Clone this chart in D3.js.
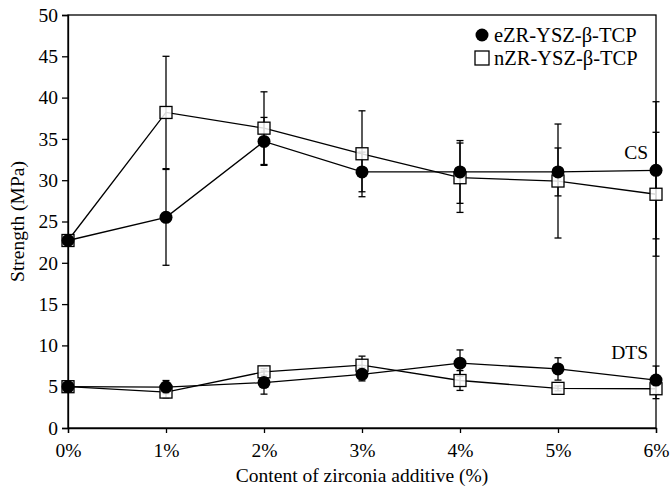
<!DOCTYPE html>
<html><head><meta charset="utf-8">
<script src="https://cdn.jsdelivr.net/npm/d3@7"></script>
<style>body{margin:0;background:#fff}svg{display:block}text{font-family:"Liberation Serif","Times New Roman",serif;fill:#000}</style>
</head><body><svg id="c" width="671" height="492"></svg>
<script>
const categories = ["0%","1%","2%","3%","4%","5%","6%"];
const yTicks = [0,5,10,15,20,25,30,35,40,45,50];
const csE = [22.7, 25.5, 34.7, 31.0, 31.0, 31.0, 31.2];
const csEerr = [0.3, 5.8, 2.9, 2.4, 3.8, 2.9, 8.3];
const csN = [22.7, 38.2, 36.3, 33.2, 30.3, 29.9, 28.3];
const csNerr = [0.3, 6.8, 4.4, 5.2, 4.2, 6.9, 7.5];
const dtsE = [5.0, 4.95, 5.5, 6.5, 7.85, 7.15, 5.8];
const dtsEerr = [0.1, 0.8, 1.4, 0.8, 1.6, 1.35, 1.7];
const dtsN = [5.0, 4.35, 6.8, 7.6, 5.75, 4.8, 4.75];
const dtsNerr = [0.1, 0.7, 0.4, 1.1, 1.2, 0.3, 1.2];
const legendLabels = ["eZR-YSZ-β-TCP","nZR-YSZ-β-TCP"];

const svg = d3.select("#c");
const L=68, R=656, T=15, B=428;
const x = d3.scalePoint().domain(categories).range([L,R]);
const y = d3.scaleLinear().domain([0,50]).range([B,T]);

svg.append("rect").attr("x",L).attr("y",T).attr("width",R-L).attr("height",B-T)
  .attr("fill","none").attr("stroke","#000").attr("stroke-width",1.3);

const ya = svg.append("g").attr("transform",`translate(${L},0)`)
  .call(d3.axisLeft(y).tickValues(yTicks).tickSize(6).tickPadding(4));
const xa = svg.append("g").attr("transform",`translate(0,${B})`)
  .call(d3.axisBottom(x).tickSize(5).tickPadding(10));
[ya,xa].forEach(a=>{a.select(".domain").attr("stroke","#000").attr("stroke-width",1.3);
  a.selectAll(".tick line").attr("stroke","#000").attr("stroke-width",1.3);
  a.selectAll("text").style("font-size","19.5px").style("font-family",'"Liberation Serif",serif');});

svg.append("text").attr("transform",`translate(24,${(T+B)/2}) rotate(-90)`)
  .attr("text-anchor","middle").style("font-size","19.5px").text("Strength (MPa)");
svg.append("text").attr("x",(L+R)/2).attr("y",482).attr("text-anchor","middle")
  .style("font-size","19.5px").text("Content of zirconia additive (%)");

const series = [
  {v:csE,e:csEerr,type:"c"},{v:csN,e:csNerr,type:"s"},
  {v:dtsE,e:dtsEerr,type:"c"},{v:dtsN,e:dtsNerr,type:"s"}
];
const line = d3.line().x((d,i)=>x(categories[i])).y(d=>y(d));
series.forEach(s=>{
  svg.append("path").attr("d",line(s.v)).attr("fill","none").attr("stroke","#000").attr("stroke-width",1.3);
});
series.forEach(s=>{
  const g=svg.append("g").attr("stroke","#000").attr("stroke-width",1.3);
  s.v.forEach((v,i)=>{
    const cx=x(categories[i]);
    g.append("line").attr("x1",cx).attr("x2",cx).attr("y1",y(v-s.e[i])).attr("y2",y(v+s.e[i]));
    [v-s.e[i],v+s.e[i]].forEach(t=>g.append("line").attr("x1",cx-3.5).attr("x2",cx+3.5).attr("y1",y(t)).attr("y2",y(t)));
  });
});
function marker(g,type,cx,cy){
  if(type==="c") g.append("circle").attr("cx",cx).attr("cy",cy).attr("r",6.5).attr("fill","#000");
  else g.append("rect").attr("x",cx-6).attr("y",cy-6).attr("width",12).attr("height",12)
    .attr("fill","#fff").attr("fill-opacity",0.85).attr("stroke","#000").attr("stroke-width",1.3);
}
[series[1],series[3],series[0],series[2]].forEach(s=>{
  const g=svg.append("g");
  s.v.forEach((v,i)=>marker(g,s.type,x(categories[i]),y(v)));
});

const lg=svg.append("g");
marker(lg,"c",482,35);
lg.append("rect").attr("x",475).attr("y",51).attr("width",14).attr("height",14).attr("fill","#fff").attr("stroke","#000").attr("stroke-width",1.3);
lg.append("text").attr("x",494).attr("y",42).style("font-size","20.5px").text(legendLabels[0]);
lg.append("text").attr("x",494).attr("y",65).style("font-size","20.5px").text(legendLabels[1]);

svg.append("text").attr("x",648).attr("y",159).attr("text-anchor","end").style("font-size","19.5px").text("CS");
svg.append("text").attr("x",648).attr("y",359).attr("text-anchor","end").style("font-size","19.5px").text("DTS");
</script></body></html>
